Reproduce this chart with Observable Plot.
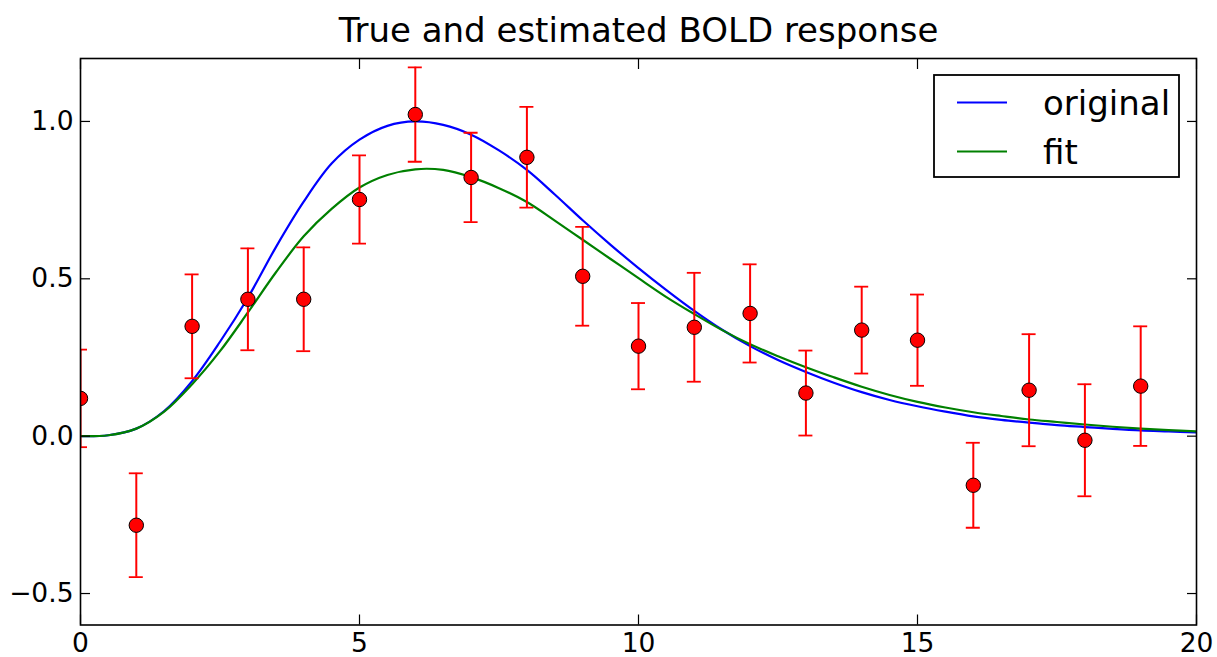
<!DOCTYPE html>
<html><head><meta charset="utf-8">
<script src="https://cdn.jsdelivr.net/npm/d3@7"></script>
<script src="https://cdn.jsdelivr.net/npm/@observablehq/plot@0.6"></script>
<style>
body{margin:0;background:#fff;font-family:"DejaVu Sans",sans-serif;}
#wrap{position:relative;width:1217px;height:657px;overflow:hidden;}
#legend{position:absolute;left:933px;top:74px;}
</style></head><body>
<div id="wrap"><div id="chart"></div><div id="legend"></div></div>
<script>
const titleText = "True and estimated BOLD response";
const obsX = [0,1,2,3,4,5,6,7,8,9,10,11,12,13,14,15,16,17,18,19];
const obsY = [0.12,-0.283,0.349,0.435,0.435,0.752,1.022,0.822,0.886,0.508,0.286,0.346,0.39,0.137,0.337,0.305,-0.156,0.146,-0.013,0.159];
const obsErr = [0.155,0.165,0.165,0.162,0.165,0.14,0.15,0.142,0.16,0.157,0.137,0.173,0.156,0.135,0.138,0.145,0.135,0.178,0.178,0.19];
const curveX = [0,0.5,1,1.5,2,2.5,3,3.5,4,4.5,5,5.5,6,6.5,7,7.5,8,8.5,9,9.5,10,10.5,11,11.5,12,12.5,13,13.5,14,14.5,15,15.5,16,16.5,17,17.5,18,18.5,19,19.5,20];
const originalY = [0,0.003,0.024,0.08,0.175,0.30,0.44,0.60,0.745,0.866,0.942,0.986,1.0,0.989,0.958,0.908,0.846,0.768,0.686,0.608,0.534,0.464,0.398,0.338,0.286,0.242,0.204,0.17,0.14,0.115,0.095,0.078,0.063,0.052,0.043,0.035,0.029,0.023,0.018,0.015,0.012];
const fitY = [0,0.003,0.024,0.078,0.165,0.27,0.393,0.52,0.635,0.722,0.79,0.83,0.848,0.846,0.823,0.788,0.744,0.685,0.624,0.563,0.502,0.442,0.388,0.337,0.292,0.254,0.219,0.187,0.157,0.131,0.109,0.091,0.076,0.064,0.053,0.045,0.037,0.03,0.024,0.019,0.015];
const xTicks = [0,5,10,15,20];
const yTicks = [-0.5,0,0.5,1.0];
const seriesNames = ["original","fit"];
const seriesColors = ["#0000ff","#008000"];

const obs = obsX.map((x,i)=>({x, y: obsY[i], lo: obsY[i]-obsErr[i], hi: obsY[i]+obsErr[i]}));
const curve = curveX.map((x,i)=>({x, original: originalY[i], fit: fitY[i]}));

const FS = 26.5;
const chart = Plot.plot({
  width: 1217, height: 657,
  marginLeft: 80, marginRight: 21, marginTop: 58, marginBottom: 32.5,
  style: {fontFamily: "DejaVu Sans, sans-serif", fontSize: FS+"px", background: "#fff", color: "#000"},
  x: {domain: [0,20], label: null},
  y: {domain: [-0.6,1.2], label: null},
  marks: [
    Plot.line(curve, {x: "x", y: "original", stroke: seriesColors[0], strokeWidth: 2.2, curve: "catmull-rom", clip: true}),
    Plot.line(curve, {x: "x", y: "fit", stroke: seriesColors[1], strokeWidth: 2.2, curve: "catmull-rom", clip: true}),
    Plot.ruleX(obs, {x: "x", y1: "lo", y2: "hi", stroke: "#ff0000", strokeWidth: 2, clip: true}),
    Plot.ruleY(obs, {x1: "x", x2: "x", y: "lo", insetLeft: -7, insetRight: -7, stroke: "#ff0000", strokeWidth: 1.8, clip: true}),
    Plot.ruleY(obs, {x1: "x", x2: "x", y: "hi", insetLeft: -7, insetRight: -7, stroke: "#ff0000", strokeWidth: 1.8, clip: true}),
    Plot.dot(obs, {x: "x", y: "y", r: 7.2, fill: "#ff0000", stroke: "#000", strokeWidth: 1, clip: true}),
    Plot.axisX(xTicks, {anchor: "bottom", tickSize: 0, tickPadding: 8, fontSize: FS, tickFormat: d => String(d), label: null}),
    Plot.axisY(yTicks, {anchor: "left", tickSize: 0, tickPadding: 7, fontSize: FS, tickFormat: d3.format(".1f"), label: null}),
    Plot.axisX(xTicks, {anchor: "bottom", tickSize: -10, fill: "none", strokeWidth: 1.2, label: null}),
    Plot.axisX(xTicks, {anchor: "top", tickSize: -10, fill: "none", strokeWidth: 1.2, label: null}),
    Plot.axisY(yTicks, {anchor: "left", tickSize: -10, fill: "none", strokeWidth: 1.2, label: null}),
    Plot.axisY(yTicks, {anchor: "right", tickSize: -10, fill: "none", strokeWidth: 1.2, label: null}),
    Plot.frame({stroke: "#000", strokeWidth: 1.6}),
    Plot.text([titleText], {frameAnchor: "top", text: d => d, dy: -17, lineAnchor: "bottom", fontSize: 34, fill: "#000"})
  ]
});
document.getElementById("chart").appendChild(chart);

// legend
const lw = 245, lh = 102;
let s = `<svg width="${lw+2}" height="${lh+2}" xmlns="http://www.w3.org/2000/svg" style="font-family:'DejaVu Sans',sans-serif">`;
s += `<rect x="1" y="1" width="${lw}" height="${lh}" fill="#fff" stroke="#000" stroke-width="1.8"/>`;
seriesNames.forEach((n,i)=>{
  const cy = 28.5 + i*49;
  s += `<line x1="24" x2="74" y1="${cy}" y2="${cy}" stroke="${seriesColors[i]}" stroke-width="2.2"/>`;
  s += `<text x="110" y="${cy}" dy="0.36em" font-size="34" fill="#000">${n}</text>`;
});
s += `</svg>`;
document.getElementById("legend").innerHTML = s;
</script>
</body></html>
